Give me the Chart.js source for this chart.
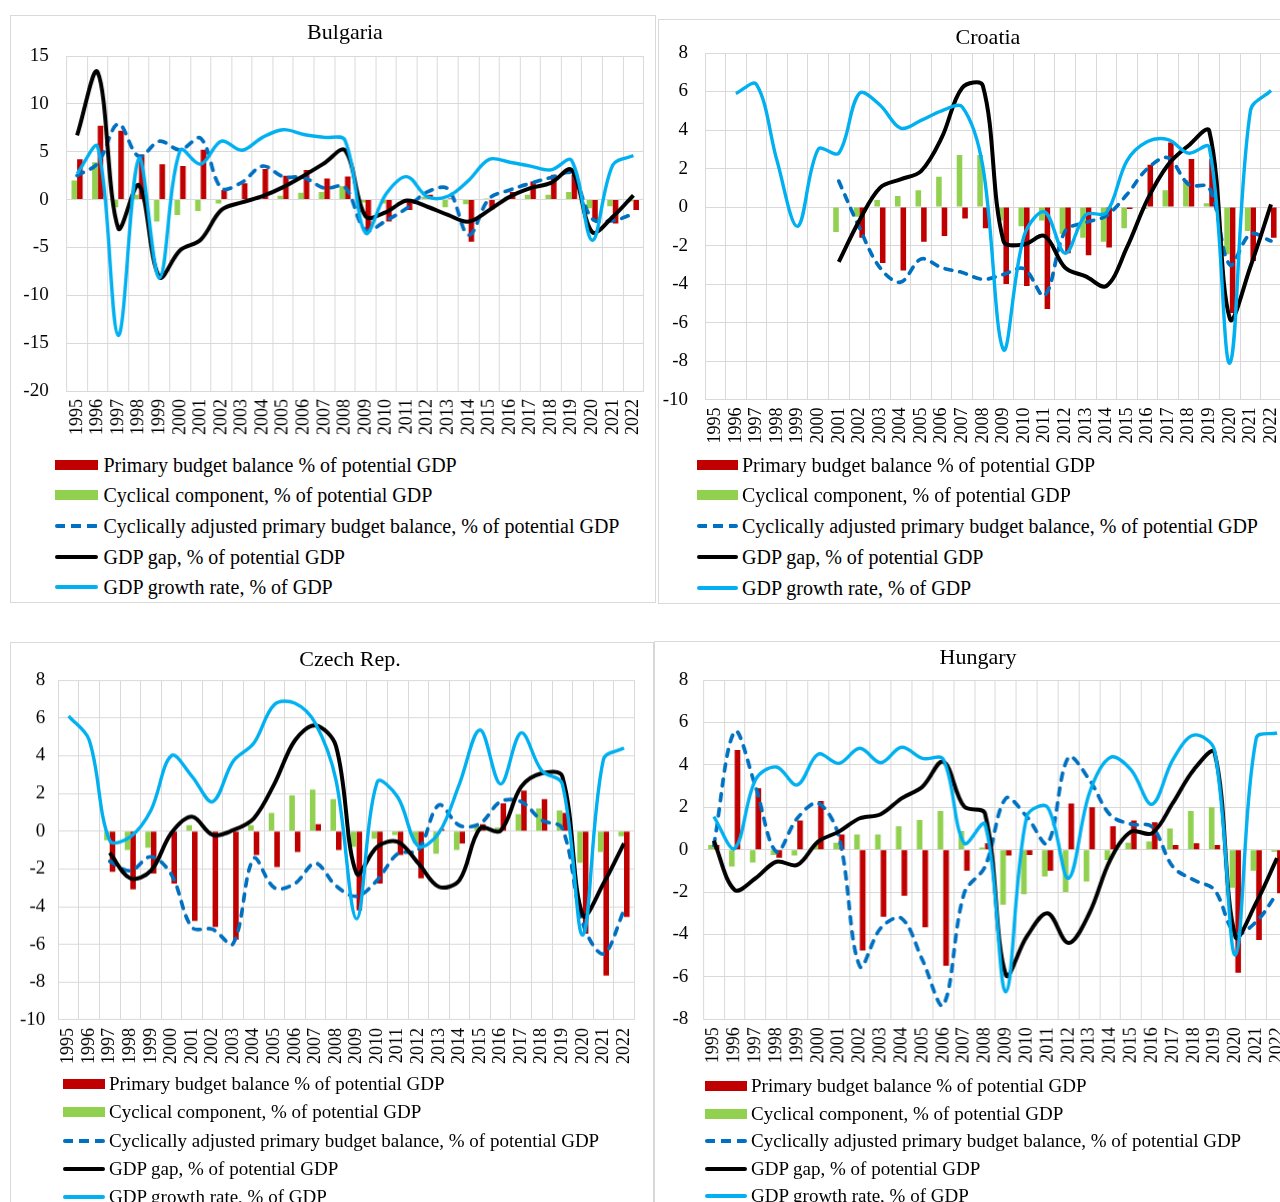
<!DOCTYPE html>
<html>
<head>
<meta charset="utf-8">
<script src="https://cdn.jsdelivr.net/npm/chart.js@4.4.1/dist/chart.umd.min.js"></script>
<style>
  body { margin: 0; width: 1280px; height: 1202px; overflow: hidden; background: #fff; position: relative;
         font-family: 'Liberation Serif', 'Times New Roman', serif; }
  .frame { position: absolute; border: 1.5px solid #d9d9d9; box-sizing: border-box; }
  .box { position: absolute; }
  .title { position: absolute; font-size: 22px; color: #000; transform: translate(-50%, -50%); white-space: nowrap; }
  .row { position: absolute; height: 30px; display: flex; align-items: center; white-space: nowrap; color: #000; }
  .mk { position: absolute; }
</style>
</head>
<body>

<div class="frame" style="left:10px;top:15px;width:646px;height:588px"></div>
<div class="frame" style="left:658px;top:19px;width:640px;height:585px"></div>
<div class="frame" style="left:10px;top:642px;width:644px;height:580px"></div>
<div class="frame" style="left:654px;top:641px;width:640px;height:580px"></div>

<div class="box" id="bgBox"><canvas id="bg"></canvas></div>
<div class="box" id="hrBox"><canvas id="hr"></canvas></div>
<div class="box" id="czBox"><canvas id="cz"></canvas></div>
<div class="box" id="huBox"><canvas id="hu"></canvas></div>

<script>
var years = ['1995','1996','1997','1998','1999','2000','2001','2002','2003','2004','2005','2006','2007','2008',
             '2009','2010','2011','2012','2013','2014','2015','2016','2017','2018','2019','2020','2021','2022'];

var legendLabels = ['Primary budget balance % of potential GDP',
                    'Cyclical component, % of potential GDP',
                    'Cyclically adjusted primary budget balance, % of potential GDP',
                    'GDP gap, % of potential GDP',
                    'GDP growth rate, % of GDP'];

// Bulgaria
var bgPrimary  = [4.2, 7.7, 7.2, 4.7, 3.7, 3.5, 5.2, 1.0, 1.7, 3.2, 2.5, 3.1, 2.2, 2.4, -3.3, -2.3, -1.1, 0.5, 0.1, -4.4, -1.0, 0.8, 1.9, 2.6, 2.6, -2.3, -2.5, -1.1];
var bgCyclical = [2.0, 3.9, -0.8, 0.5, -2.3, -1.6, -1.2, -0.4, 0.0, 0.0, 0.4, 0.7, 0.8, 1.4, -0.3, -0.4, -0.3, 0.3, -0.8, -0.5, 0.1, 0.3, 0.5, 0.5, 0.8, -0.9, -0.7, -0.2];
var bgCapb     = [2.5, 3.8, 7.9, 4.5, 6.1, 5.2, 6.4, 1.2, 1.8, 3.5, 2.4, 2.3, 1.2, 1.3, -3.2, -2.2, -0.9, 0.8, 1.1, -3.7, 0.1, 1.0, 1.7, 2.3, 2.7, -2.0, -2.2, -1.5];
var bgGap      = [6.7, 13.3, -3.0, 1.5, -8.1, -5.3, -4.2, -1.1, -0.3, 0.35, 1.3, 2.5, 3.8, 5.15, -1.75, -1.3, -0.1, -0.75, -1.6, -2.3, -1.1, 0.3, 1.2, 1.75, 3.1, -3.4, -1.8, 0.45];
var bgGrowth   = [2.7, 5.5, -14.2, 4.3, -8.2, 5.15, 3.7, 6.1, 5.15, 6.5, 7.3, 6.8, 6.5, 6.2, -3.5, 0.6, 2.4, 0.3, 0.35, 2.0, 4.2, 3.9, 3.5, 3.1, 4.1, -4.25, 3.6, 4.6];

// Croatia
var hrPrimary  = [null, null, null, null, null, null, null, -1.6, -2.9, -3.3, -1.8, -1.5, -0.6, -1.1, -4.0, -4.1, -5.3, -2.4, -2.5, -2.1, -0.1, 2.2, 3.35, 2.5, 2.5, -5.5, -2.8, -1.6];
var hrCyclical = [null, null, null, null, null, null, -1.3, -0.5, 0.36, 0.57, 0.87, 1.57, 2.7, 2.7, -0.7, -1.0, -0.7, -1.4, -1.6, -1.8, -1.1, -0.1, 0.87, 1.4, 0.2, -2.45, -1.25, 0.0];
var hrCapb     = [null, null, null, null, null, null, 1.35, -1.07, -3.15, -3.9, -2.7, -3.15, -3.4, -3.75, -3.5, -3.2, -4.6, -1.25, -0.8, -0.45, 0.65, 2.0, 2.56, 1.17, 1.0, -3.0, -1.4, -1.76];
var hrGap      = [null, null, null, null, null, null, -2.85, -0.7, 1.0, 1.44, 1.87, 3.6, 6.2, 6.3, -1.76, -1.94, -1.5, -3.15, -3.6, -4.1, -2.1, 0.4, 2.2, 3.2, 3.95, -5.8, -3.1, 0.14];
var hrGrowth   = [null, 5.9, 6.37, 2.4, -1.0, 3.0, 2.8, 5.9, 5.3, 4.1, 4.5, 5.0, 5.2, 2.1, -7.4, -1.5, -0.25, -2.4, -0.4, -0.3, 2.4, 3.4, 3.5, 2.8, 3.1, -8.1, 5.0, 6.05];

// Czech Rep.
var czPrimary  = [null, null, -2.16, -3.08, -2.25, -2.78, -4.76, -5.08, -5.75, -1.27, -1.9, -1.1, 0.37, -1.0, -4.2, -2.78, -1.27, -2.5, 0.1, -0.65, 0.37, 1.47, 2.14, 1.7, 0.97, -5.43, -7.65, -4.55];
var czCyclical = [null, null, -0.48, -1.0, -0.88, -0.04, 0.32, -0.12, 0.0, 0.32, 0.97, 1.9, 2.2, 1.7, -0.83, -0.4, -0.2, -0.65, -1.2, -1.0, 0.23, 0.2, 0.9, 1.2, 1.1, -1.68, -1.1, -0.27];
var czCapb     = [null, null, -1.6, -2.1, -1.36, -2.3, -5.1, -5.2, -5.96, -1.45, -3.0, -2.78, -1.7, -2.9, -3.45, -2.6, -1.2, -1.0, 1.38, 0.3, 0.4, 1.56, 1.56, 0.58, 0.14, -4.9, -6.5, -4.2];
var czGap      = [null, null, -1.15, -2.5, -2.1, -0.1, 0.76, -0.2, 0.05, 0.67, 2.5, 4.8, 5.6, 4.5, -2.25, -0.83, -0.57, -1.7, -2.95, -2.6, 0.14, 0.02, 2.35, 3.06, 2.9, -4.46, -2.78, -0.65];
var czGrowth   = [6.1, 4.83, -0.5, -0.3, 1.1, 4.0, 2.9, 1.56, 3.7, 4.65, 6.7, 6.78, 5.7, 2.7, -4.64, 2.6, 1.8, -0.8, -0.1, 2.5, 5.36, 2.5, 5.2, 3.2, 2.5, -5.5, 3.8, 4.4];

// Hungary
var huPrimary  = [0.22, 4.7, 2.9, -0.38, 1.37, 2.3, 0.72, -4.76, -3.16, -2.17, -3.66, -5.48, -1.0, 0.3, -0.27, -0.25, -1.0, 2.18, 2.0, 1.1, 1.37, 1.29, 0.22, 0.3, 0.22, -5.8, -4.26, -2.06];
var huCyclical = [0.22, -0.8, -0.61, -0.25, -0.28, 0.22, 0.33, 0.72, 0.72, 1.1, 1.4, 1.82, 0.88, 0.1, -2.6, -2.1, -1.27, -2.0, -1.5, -0.49, 0.33, 0.38, 1.0, 1.82, 2.0, -1.8, -1.0, -0.1];
var huCapb     = [0.2, 5.57, 2.97, -0.1, 1.48, 2.19, 0.6, -5.5, -3.7, -3.24, -5.2, -7.33, -2.06, -0.8, 2.42, 1.56, 0.3, 4.35, 3.3, 1.64, 1.2, 1.08, -0.8, -1.43, -1.9, -3.95, -3.4, -2.06];
var huGap      = [0.42, -1.9, -1.35, -0.57, -0.72, 0.38, 0.85, 1.48, 1.67, 2.42, 2.97, 4.15, 2.03, 1.7, -5.9, -4.1, -3.0, -4.4, -3.0, -0.49, 0.85, 0.77, 2.19, 3.76, 4.58, -4.1, -2.5, -0.4];
var huGrowth   = [1.56, 0.06, 3.3, 3.9, 3.05, 4.5, 4.07, 4.78, 4.1, 4.83, 4.3, 4.26, 0.3, 1.2, -6.7, 1.56, 2.0, -1.35, 2.66, 4.35, 3.76, 2.14, 4.23, 5.4, 4.7, -4.97, 5.25, 5.5];

var RED = '#c00000', GREEN = '#92d050', DBLUE = '#0070c0', LBLUE = '#00b0f0', GRID = '#d9d9d9';
var FONT = "'Liberation Serif', 'Times New Roman', serif";

function $(sel) { return document.querySelector(sel); }

function addText(cls, txt, style) {
    var d = document.createElement('div');
    d.className = cls;
    d.textContent = txt;
    d.setAttribute('style', style);
    document.body.appendChild(d);
    return d;
}

// one panel, plot = wanted chart area in page coords; the canvas gets some room
// round it because chart.js keeps half a tick label + tick padding free at top/right
function panel(id, name, plot, xBottom, yr, s, title, leg) {
    var box = { l: plot.l - yr[4], t: plot.t - 36, r: plot.r + 30, b: xBottom };
    var el = $('#' + id + 'Box');
    el.style.left = box.l + 'px';
    el.style.top = box.t + 'px';
    el.style.width = (box.r - box.l) + 'px';
    el.style.height = (box.b - box.t) + 'px';

    new Chart($('#' + id), {
        type: 'bar',
        data: {
            labels: years,
            datasets: [
                { type: 'bar', data: s[0], backgroundColor: RED, order: 4, categoryPercentage: 0.54, barPercentage: 1.0 },
                { type: 'bar', data: s[1], backgroundColor: GREEN, order: 3, categoryPercentage: 0.54, barPercentage: 1.0 },
                { type: 'line', data: s[2], borderColor: DBLUE, borderWidth: 3.7, borderDash: [7, 8], borderCapStyle: 'round',
                  pointRadius: 0, tension: 0.35, order: 2 },
                { type: 'line', data: s[3], borderColor: '#000', borderWidth: 4, pointRadius: 0, tension: 0.35, order: 1 },
                { type: 'line', data: s[4], borderColor: LBLUE, borderWidth: 3.4, pointRadius: 0, tension: 0.35, order: 0 }
            ]
        },
        options: {
            responsive: true,
            maintainAspectRatio: false,
            animation: false,
            layout: { padding: { top: plot.t - box.t, right: box.r - plot.r, bottom: 0, left: 0 } },
            plugins: { legend: { display: false }, tooltip: { enabled: false }, title: { display: false } },
            scales: {
                x: {
                    grid: { color: GRID, lineWidth: 1, drawTicks: false },
                    border: { color: GRID },
                    ticks: { color: '#000', font: { family: FONT, size: 18 }, minRotation: 90, maxRotation: 90,
                             autoSkip: false, padding: 8 },
                    afterFit: function(sc) { sc.height = box.b - plot.b; }
                },
                y: {
                    min: yr[0], max: yr[1],
                    grid: { color: GRID, lineWidth: 1, drawTicks: false },
                    border: { color: GRID },
                    ticks: { stepSize: yr[2], color: '#000', font: { family: FONT, size: 19 }, padding: yr[3] },
                    afterFit: function(sc) { sc.width = plot.l - box.l; }
                }
            }
        }
    });

    addText('title', name, 'left:' + title[0] + 'px;top:' + title[1] + 'px');

    // legend rows
    for (var i = 0; i < legendLabels.length; i++) {
        var cy = leg.rows[i];
        addText('row', legendLabels[i], 'left:' + leg.tx + 'px;top:' + (cy - 15) + 'px;font-size:' + leg.fs + 'px');
        var m = document.createElement('div');
        m.className = 'mk';
        var css = 'left:' + leg.ml + 'px;width:' + (leg.mr - leg.ml) + 'px;';
        if (i == 0 || i == 1) {
            css += 'top:' + (cy - 5) + 'px;height:10px;background:' + (i == 0 ? RED : GREEN) + ';';
        } else if (i == 2) {
            css += 'top:' + (cy - 2) + 'px;height:4px;border-radius:2px;' +
                   'background:repeating-linear-gradient(to right,' + DBLUE + ' 0 10px,transparent 10px 16px);';
        } else {
            css += 'top:' + (cy - 2) + 'px;height:4px;border-radius:2px;background:' + (i == 3 ? '#000' : LBLUE) + ';';
        }
        m.setAttribute('style', css);
        document.body.appendChild(m);
    }
}

panel('bg', 'Bulgaria', { l: 66.7, t: 55.7, r: 642.7, b: 390.7 }, 447,
      [-20, 15, 5, 18, 56.7], [bgPrimary, bgCyclical, bgCapb, bgGap, bgGrowth], [345, 32],
      { ml: 55, mr: 98, tx: 103.5, fs: 20, rows: [465, 495, 526, 557, 587] });

panel('hr', 'Croatia', { l: 705, t: 52.7, r: 1281.3, b: 399.3 }, 454,
      [-10, 8, 2, 17, 46], [hrPrimary, hrCyclical, hrCapb, hrGap, hrGrowth], [988, 37],
      { ml: 697, mr: 738, tx: 742, fs: 20, rows: [465, 495, 526, 557, 588] });

panel('cz', 'Czech Rep.', { l: 58.3, t: 680.3, r: 634.3, b: 1019.3 }, 1079,
      [-10, 8, 2, 13, 48.3], [czPrimary, czCyclical, czCapb, czGap, czGrowth], [350, 659],
      { ml: 63, mr: 105, tx: 109, fs: 19, rows: [1084, 1112, 1141, 1169, 1197] });

panel('hu', 'Hungary', { l: 703.3, t: 680, r: 1286.5, b: 1019.3 }, 1079,
      [-8, 8, 2, 15, 48.3], [huPrimary, huCyclical, huCapb, huGap, huGrowth], [978, 657],
      { ml: 705, mr: 747, tx: 751, fs: 19, rows: [1086, 1114, 1141, 1169, 1196] });
</script>
</body>
</html>
